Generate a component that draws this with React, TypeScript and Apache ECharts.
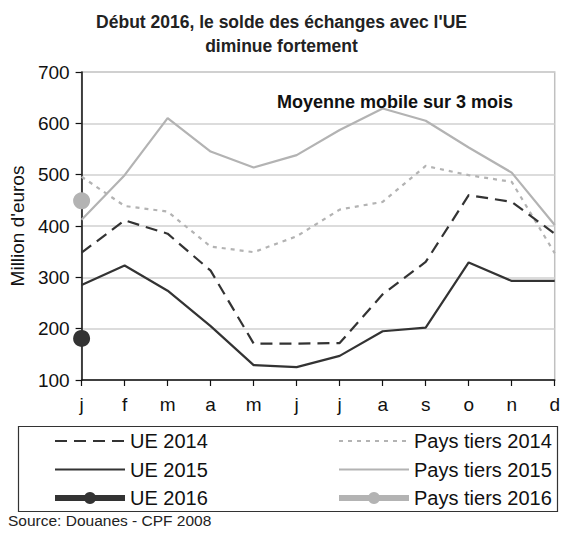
import React, { useEffect, useRef } from "react";
import * as echarts from "echarts";

const months = ["j", "f", "m", "a", "m", "j", "j", "a", "s", "o", "n", "d"];
const ue2014 = [348, 411, 385, 313, 171, 171, 172, 267, 330, 460, 447, 385];
const pt2014 = [496, 439, 428, 360, 349, 380, 432, 447, 517, 499, 486, 347];
const ue2015 = [285, 323, 274, 205, 129, 125, 147, 195, 202, 329, 293, 293];
const pt2015 = [412, 499, 610, 545, 514, 538, 587, 629, 605, 553, 504, 402];
const ue2016 = [181];
const pt2016 = [449];
const yTicks = { min: 100, max: 700, interval: 100 };

const FONT = "'Liberation Sans', Arial, sans-serif";
const DARK = "#333333";
const LIGHT = "#b3b3b3";

export default function App() {
  const ref = useRef<HTMLDivElement>(null);
  useEffect(() => {
    if (!ref.current) return;
    const chart = echarts.init(ref.current, undefined, { renderer: "svg" });
    const legendText = { fontSize: 20, color: "#111", fontFamily: FONT, lineHeight: 19 };
    const hideSym = { opacity: 0 };
    chart.setOption({
      animation: false,
      backgroundColor: "#ffffff",
      textStyle: { fontFamily: FONT },
      title: [
        {
          text: "Début 2016, le solde des échanges avec l'UE\ndiminue fortement",
          left: "center",
          top: 10,
          padding: 0,
          textStyle: { fontSize: 17.5, fontWeight: "bold", color: "#222", lineHeight: 24, fontFamily: FONT },
        },
        {
          text: "Moyenne mobile sur 3 mois",
          left: 277,
          top: 93,
          padding: 0,
          textStyle: { fontSize: 18, fontWeight: "bold", color: "#111", fontFamily: FONT },
        },
        {
          text: "Source: Douanes - CPF 2008",
          left: 8,
          top: 512,
          padding: 0,
          textStyle: { fontSize: 15.5, fontWeight: "normal", color: "#222", fontFamily: FONT },
        },
      ],
      grid: {
        left: 81,
        right: 8,
        top: 72,
        bottom: 153,
        show: true,
        borderColor: "#c0c0c0",
        borderWidth: 1.5,
        containLabel: false,
      },
      xAxis: {
        type: "category",
        data: months,
        boundaryGap: false,
        axisLine: { lineStyle: { color: "#111", width: 1.5 } },
        axisTick: { show: true, length: 6, lineStyle: { color: "#111", width: 1.2 } },
        axisLabel: { fontSize: 19, color: "#111", margin: 15, fontFamily: FONT },
        splitLine: { show: false },
      },
      yAxis: {
        type: "value",
        min: yTicks.min,
        max: yTicks.max,
        interval: yTicks.interval,
        name: "Million d'euros",
        nameLocation: "middle",
        nameGap: 38,
        nameTextStyle: { fontSize: 19, color: "#111", fontFamily: FONT },
        axisLine: { show: true, lineStyle: { color: "#111", width: 1.5 } },
        axisTick: { show: true, length: 6, lineStyle: { color: "#111", width: 1.2 } },
        axisLabel: { fontSize: 19, color: "#111", margin: 12, fontFamily: FONT },
        splitLine: { lineStyle: { color: "#d0d0d0", width: 1.5 } },
      },
      legend: [
        {
          orient: "vertical",
          left: 52,
          top: 431,
          padding: 0,
          itemWidth: 70,
          itemHeight: 15,
          itemGap: 8.5,
          textStyle: legendText,
          data: [
            { name: "UE 2014", itemStyle: hideSym },
            { name: "UE 2015", itemStyle: hideSym },
            { name: "UE 2016", lineStyle: { width: 6 } },
          ],
        },
        {
          orient: "vertical",
          left: 336,
          top: 431,
          padding: 0,
          itemWidth: 70,
          itemHeight: 15,
          itemGap: 8.5,
          textStyle: legendText,
          data: [
            { name: "Pays tiers 2014", itemStyle: hideSym },
            { name: "Pays tiers 2015", itemStyle: hideSym },
            { name: "Pays tiers 2016", lineStyle: { width: 6 } },
          ],
        },
      ],
      graphic: [
        {
          type: "rect",
          shape: { x: 18.5, y: 426.5, width: 539, height: 85 },
          style: { fill: "none", stroke: "#333", lineWidth: 1.2 },
          silent: true,
        },
      ],
      series: [
        {
          name: "Pays tiers 2014",
          type: "line",
          data: pt2014,
          symbol: "none",
          itemStyle: { color: LIGHT },
          lineStyle: { color: LIGHT, width: 2.2, type: [4, 5] },
        },
        {
          name: "Pays tiers 2015",
          type: "line",
          data: pt2015,
          symbol: "none",
          itemStyle: { color: LIGHT },
          lineStyle: { color: LIGHT, width: 2.2 },
        },
        {
          name: "UE 2014",
          type: "line",
          data: ue2014,
          symbol: "none",
          itemStyle: { color: DARK },
          lineStyle: { color: DARK, width: 2.2, type: [12, 7] },
        },
        {
          name: "UE 2015",
          type: "line",
          data: ue2015,
          symbol: "none",
          itemStyle: { color: DARK },
          lineStyle: { color: DARK, width: 2.2 },
        },
        {
          name: "UE 2016",
          type: "line",
          data: ue2016,
          symbol: "circle",
          symbolSize: 17,
          showSymbol: true,
          itemStyle: { color: DARK },
          lineStyle: { color: DARK, width: 6 },
        },
        {
          name: "Pays tiers 2016",
          type: "line",
          data: pt2016,
          symbol: "circle",
          symbolSize: 17,
          showSymbol: true,
          itemStyle: { color: LIGHT },
          lineStyle: { color: LIGHT, width: 6 },
        },
      ],
    });
    return () => chart.dispose();
  }, []);
  return (
    <div
      ref={ref}
      style={{ position: "fixed", left: 0, top: 0, width: 563, height: 533 }}
    />
  );
}
